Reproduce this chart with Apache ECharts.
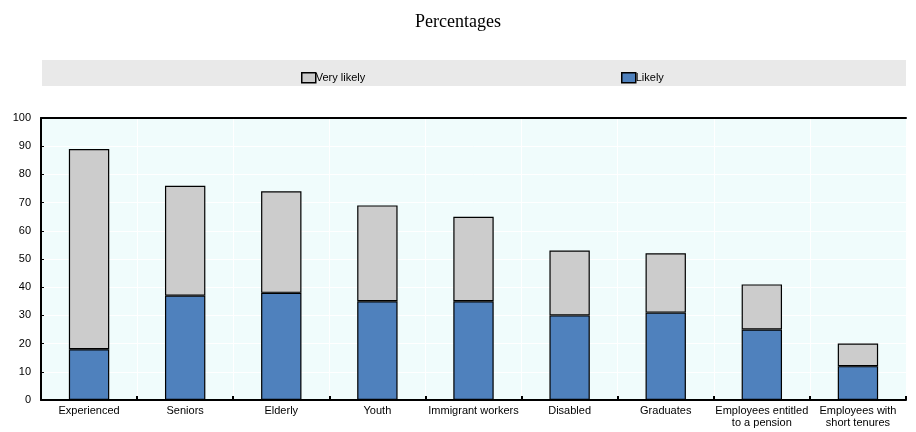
<!DOCTYPE html>
<html>
<head>
<meta charset="utf-8">
<script src="https://cdn.jsdelivr.net/npm/echarts@6/dist/echarts.min.js"></script>
<style>
  html, body { margin: 0; padding: 0; background: #fff; }
  #chart { width: 916px; height: 432px; }
</style>
</head>
<body>
<div id="chart"></div>
<script>
const categories = ['Experienced', 'Seniors', 'Elderly', 'Youth', 'Immigrant workers', 'Disabled', 'Graduates', 'Employees entitled\nto a pension', 'Employees with\nshort tenures'];
const likely = [18, 37, 38, 35, 35, 30, 31, 25, 12];
const veryLikely = [71, 39, 36, 34, 30, 23, 21, 16, 8];
const yTicks = { min: 0, max: 100, step: 10 };

const chart = echarts.init(document.getElementById('chart'));
const font = 'Arial, "Liberation Sans", sans-serif';

chart.setOption({
  backgroundColor: '#fff',
  animation: false,
  title: {
    text: 'Percentages',
    left: 'center',
    top: 8,
    textStyle: { fontFamily: '"Liberation Serif", "Times New Roman", serif', fontWeight: 'normal', fontSize: 18, color: '#000' }
  },
  graphic: [{
    type: 'rect',
    shape: { x: 42, y: 60, width: 864, height: 26 },
    style: { fill: '#e9e9e9' },
    silent: true
  }],
  legend: [
    {
      data: ['Very likely'],
      left: 296, top: 67,
      icon: 'rect', itemWidth: 14, itemHeight: 10,
      itemStyle: { borderColor: '#000', borderWidth: 1.5 },
      textStyle: { fontFamily: font, fontSize: 11, color: '#000', padding: [0, 0, 0, -5] }
    },
    {
      data: ['Likely'],
      left: 616, top: 67,
      icon: 'rect', itemWidth: 14, itemHeight: 10,
      itemStyle: { borderColor: '#000', borderWidth: 1.5 },
      textStyle: { fontFamily: font, fontSize: 11, color: '#000', padding: [0, 0, 0, -5] }
    }
  ],
  grid: {
    left: 41, right: 10, top: 118, bottom: 32,
    show: true, backgroundColor: '#f0fcfc', borderWidth: 0
  },
  xAxis: [
    {
      type: 'category',
      data: categories,
      axisLine: { lineStyle: { color: '#000', width: 2 } },
      axisTick: { show: true, inside: true, length: 4, lineStyle: { color: '#000', width: 2 } },
      splitLine: { show: true, lineStyle: { color: '#fff', width: 1 } },
      axisLabel: { interval: 0, fontFamily: font, fontSize: 11, color: '#000', lineHeight: 12, margin: 5 }
    },
    {
      type: 'category',
      position: 'top',
      data: categories,
      axisLine: { show: true, lineStyle: { color: '#000', width: 2 } },
      axisTick: { show: false },
      axisLabel: { show: false }
    }
  ],
  yAxis: {
    type: 'value',
    min: yTicks.min, max: yTicks.max, interval: yTicks.step,
    axisLine: { show: true, lineStyle: { color: '#000', width: 2 } },
    axisTick: { show: true, inside: true, length: 3, lineStyle: { color: '#000' } },
    splitLine: { show: true, lineStyle: { color: '#fff', width: 1 } },
    axisLabel: { fontFamily: font, fontSize: 11, color: '#000', margin: 10 }
  },
  series: [
    {
      name: 'Likely',
      type: 'bar',
      stack: 'total',
      data: likely,
      barWidth: '42%',
      itemStyle: { color: '#4f81bd', borderColor: '#000', borderWidth: 1.2 }
    },
    {
      name: 'Very likely',
      type: 'bar',
      stack: 'total',
      data: veryLikely,
      barWidth: '42%',
      itemStyle: { color: '#cccccc', borderColor: '#000', borderWidth: 1.2 }
    }
  ]
});
</script>
</body>
</html>
